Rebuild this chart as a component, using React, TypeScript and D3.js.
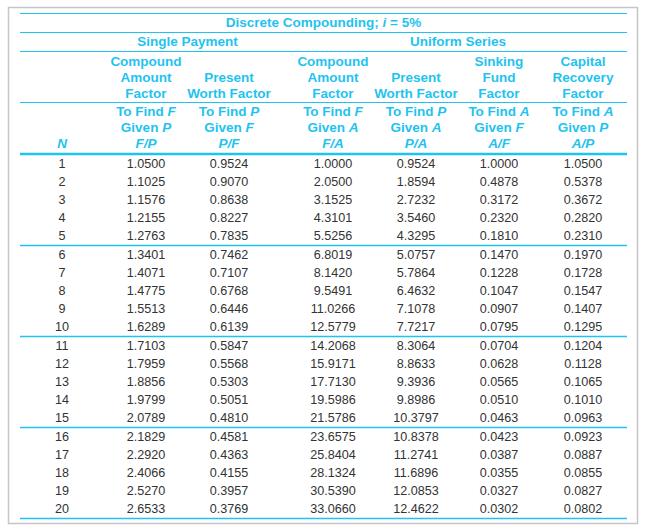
import { useEffect, useRef } from 'react'
import * as d3 from 'd3'

const periods = [1, 2, 3, 4, 5, 6, 7, 8, 9, 10, 11, 12, 13, 14, 15, 16, 17, 18, 19, 20]

const fpValues = [1.05, 1.1025, 1.1576, 1.2155, 1.2763, 1.3401, 1.4071, 1.4775, 1.5513, 1.6289, 1.7103, 1.7959, 1.8856, 1.9799, 2.0789, 2.1829, 2.292, 2.4066, 2.527, 2.6533]
const pfValues = [0.9524, 0.907, 0.8638, 0.8227, 0.7835, 0.7462, 0.7107, 0.6768, 0.6446, 0.6139, 0.5847, 0.5568, 0.5303, 0.5051, 0.481, 0.4581, 0.4363, 0.4155, 0.3957, 0.3769]
const faValues = [1.0, 2.05, 3.1525, 4.3101, 5.5256, 6.8019, 8.142, 9.5491, 11.0266, 12.5779, 14.2068, 15.9171, 17.713, 19.5986, 21.5786, 23.6575, 25.8404, 28.1324, 30.539, 33.066]
const paValues = [0.9524, 1.8594, 2.7232, 3.546, 4.3295, 5.0757, 5.7864, 6.4632, 7.1078, 7.7217, 8.3064, 8.8633, 9.3936, 9.8986, 10.3797, 10.8378, 11.2741, 11.6896, 12.0853, 12.4622]
const afValues = [1.0, 0.4878, 0.3172, 0.232, 0.181, 0.147, 0.1228, 0.1047, 0.0907, 0.0795, 0.0704, 0.0628, 0.0565, 0.051, 0.0463, 0.0423, 0.0387, 0.0355, 0.0327, 0.0302]
const apValues = [1.05, 0.5378, 0.3672, 0.282, 0.231, 0.197, 0.1728, 0.1547, 0.1407, 0.1295, 0.1204, 0.1128, 0.1065, 0.101, 0.0963, 0.0923, 0.0887, 0.0855, 0.0827, 0.0802]

const columnKeys = ['N', 'FP', 'PF', 'FA', 'PA', 'AF', 'AP']
const factorNames = [
  ['Compound', 'Amount', 'Factor'],
  ['', 'Present', 'Worth Factor'],
  ['Compound', 'Amount', 'Factor'],
  ['', 'Present', 'Worth Factor'],
  ['Sinking', 'Fund', 'Factor'],
  ['Capital', 'Recovery', 'Factor']
]
// [to find, given]
const factorSymbols = [
  ['F', 'P'],
  ['P', 'F'],
  ['F', 'A'],
  ['P', 'A'],
  ['A', 'F'],
  ['A', 'P']
]
const groupTitles = ['Single Payment', 'Uniform Series']

const CYAN = '#1fc3ef'
const FONT = '"Liberation Sans", Arial, sans-serif'

export default function App() {
  const ref = useRef<SVGSVGElement>(null)

  useEffect(() => {
    const svg = d3.select(ref.current)
    svg.selectAll('*').remove()

    const left = 20
    const right = 627
    const x = d3.scaleOrdinal<string, number>()
      .domain(columnKeys)
      .range([62, 146, 229, 333, 416, 499, 583])

    const series = [fpValues, pfValues, faValues, paValues, afValues, apValues]
    const fmt = d3.format('.4f')

    // outer frame
    svg.append('rect')
      .attr('x', 8.5).attr('y', 7.5)
      .attr('width', 629).attr('height', 516)
      .attr('fill', 'none')
      .attr('stroke', '#c6c6c6')
      .attr('stroke-width', 1.5)

    const hline = (y: number, w = 1) => svg.append('line')
      .attr('x1', left).attr('x2', right)
      .attr('y1', y).attr('y2', y)
      .attr('stroke', CYAN)
      .attr('stroke-width', w)

    hline(13.5)
    hline(32.5)
    hline(51.5)
    hline(102.5)
    hline(154, 2.5)

    const head = svg.append('g')
      .attr('fill', CYAN)
      .attr('font-family', FONT)
      .attr('font-weight', 'bold')
      .attr('font-size', 13.5)
      .attr('text-anchor', 'middle')

    const title = head.append('text').attr('x', (left + right) / 2).attr('y', 27)
    title.append('tspan').text('Discrete Compounding; ')
    title.append('tspan').attr('font-style', 'italic').text('i')
    title.append('tspan').text(' = 5%')

    head.append('text')
      .attr('x', (x('FP') + x('PF')) / 2).attr('y', 46)
      .text(groupTitles[0])
    head.append('text')
      .attr('x', (x('FA') + x('AP')) / 2).attr('y', 46)
      .text(groupTitles[1])

    head.append('text')
      .attr('x', x('N')).attr('y', 148)
      .attr('font-style', 'italic')
      .text('N')

    factorNames.forEach((lines, i) => {
      const cx = x(columnKeys[i + 1])
      lines.forEach((ln, j) => {
        if (!ln) return
        head.append('text').attr('x', cx).attr('y', 66 + j * 16).text(ln)
      })
      const [find, given] = factorSymbols[i]
      const t1 = head.append('text').attr('x', cx).attr('y', 116)
      t1.append('tspan').text('To Find ')
      t1.append('tspan').attr('font-style', 'italic').text(find)
      const t2 = head.append('text').attr('x', cx).attr('y', 132)
      t2.append('tspan').text('Given ')
      t2.append('tspan').attr('font-style', 'italic').text(given)
      head.append('text').attr('x', cx).attr('y', 148)
        .attr('font-style', 'italic')
        .text(`${find}/${given}`)
    })

    // body rows, grouped by five, each group closed by a rule
    const groupTop = d3.scaleLinear().domain([0, 4]).range([154.5, 518.5])
    const rowStep = 18.1
    const rowY = (i: number) => groupTop(Math.floor(i / 5)) + 9 + (i % 5) * rowStep

    d3.range(1, 5).forEach(g => hline(groupTop(g), 1.3))

    const body = svg.append('g')
      .attr('fill', '#333')
      .attr('font-family', FONT)
      .attr('font-size', 12.6)
      .attr('text-anchor', 'middle')

    body.selectAll('text.n')
      .data(periods)
      .enter().append('text')
      .attr('class', 'n')
      .attr('x', x('N'))
      .attr('y', (_, i) => rowY(i) + 4.5)
      .text(d => d)

    series.forEach((vals, c) => {
      body.selectAll(`text.c${c}`)
        .data(vals)
        .enter().append('text')
        .attr('class', `c${c}`)
        .attr('x', x(columnKeys[c + 1]))
        .attr('y', (_, i) => rowY(i) + 4.5)
        .text(d => fmt(d))
    })
  }, [])

  return (
    <svg ref={ref} width={646} height={530}
      style={{ position: 'absolute', left: 0, top: 0, background: '#fff' }} />
  )
}
